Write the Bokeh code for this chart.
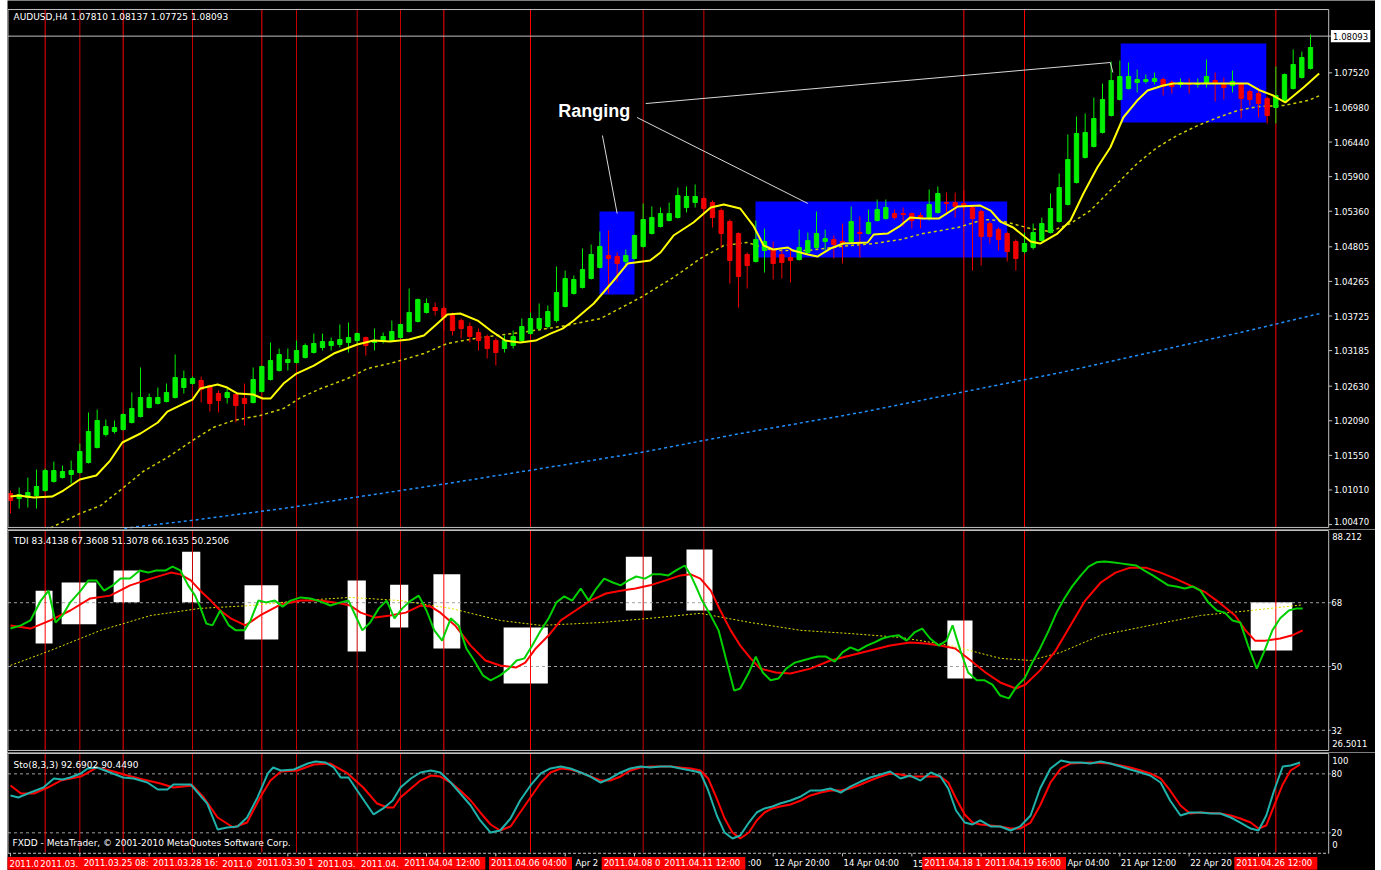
from bokeh.plotting import figure
from bokeh.models import Range1d, ColumnDataSource
from bokeh.layouts import column
from bokeh.embed import file_html
from bokeh.resources import INLINE
from bokeh.core.properties import value

# ---------------- DATA ----------------
chart_title = "AUDUSD,H4 1.07810 1.08137 1.07725 1.08093"
tdi_title = "TDI 83.4138 67.3608 51.3078 66.1635 50.2506"
sto_title = "Sto(8,3,3) 92.6902 90.4490"
footer = "FXDD - MetaTrader, \u00a9 2001-2010 MetaQuotes Software Corp."
last_price = 1.08093

open_ = [
1.00954, 1.00876, 1.00892, 1.00923, 1.01001, 1.01141, 1.01204, 1.01251, 1.01282, 1.01438,
1.01673, 1.01875, 1.01922, 1.01953, 1.02063, 1.02156, 1.02297, 1.02359, 1.02390, 1.02453,
1.02609, 1.02671, 1.02718, 1.02640, 1.02515, 1.02453, 1.02500, 1.02437, 1.02375, 1.02547,
1.02734, 1.02874, 1.02999, 1.02999, 1.03077, 1.03155, 1.03233, 1.03264, 1.03280, 1.03311,
1.03342, 1.03389, 1.03311, 1.03342, 1.03342, 1.03389, 1.03483, 1.03639, 1.03780, 1.03858,
1.03842, 1.03732, 1.03654, 1.03561, 1.03467, 1.03405, 1.03342, 1.03217, 1.03264, 1.03342,
1.03451, 1.03529, 1.03561, 1.03654, 1.03873, 1.04076, 1.04170, 1.04310, 1.04482, 1.04669,
1.04653, 1.04575, 1.04622, 1.04810, 1.05012, 1.05122, 1.05215, 1.05262, 1.05418, 1.05496,
1.05559, 1.05496, 1.05371, 1.05200, 1.05012, 1.04685, 1.04575, 1.04747, 1.04763, 1.04685,
1.04638, 1.04606, 1.04716, 1.04794, 1.04888, 1.04919, 1.04888, 1.04888, 1.05028, 1.05012,
1.05215, 1.05246, 1.05324, 1.05324, 1.05324, 1.05293, 1.05262, 1.05340, 1.05496, 1.05496,
1.05481, 1.05418, 1.05356, 1.05168, 1.05075, 1.05012, 1.04888, 1.04731, 1.04794, 1.04903,
1.05028, 1.05200, 1.05465, 1.05808, 1.06199, 1.06370, 1.06589, 1.06854, 1.07104, 1.07275,
1.07369, 1.07385, 1.07385, 1.07416, 1.07369, 1.07338, 1.07353, 1.07338, 1.07353, 1.07400,
1.07338, 1.07322, 1.07338, 1.07229, 1.07197, 1.07119, 1.06979, 1.07073, 1.07275, 1.07447,
1.07588]
high = [
1.01001, 1.01048, 1.01204, 1.01329, 1.01344, 1.01454, 1.01391, 1.01469, 1.01735, 1.02219,
1.02265, 1.02110, 1.02094, 1.02203, 1.02531, 1.02921, 1.02515, 1.02609, 1.02671, 1.03124,
1.02874, 1.02780, 1.02780, 1.02656, 1.02562, 1.02593, 1.02515, 1.02671, 1.02921, 1.02952,
1.03311, 1.03217, 1.03217, 1.03342, 1.03296, 1.03451, 1.03451, 1.03389, 1.03592, 1.03623,
1.03467, 1.03405, 1.03529, 1.03467, 1.03654, 1.03607, 1.04154, 1.03998, 1.03998, 1.03936,
1.03873, 1.03780, 1.03686, 1.03623, 1.03529, 1.03436, 1.03374, 1.03420, 1.03498, 1.03686,
1.03780, 1.03920, 1.03889, 1.04497, 1.04435, 1.04357, 1.04778, 1.04841, 1.05043, 1.05059,
1.04716, 1.04763, 1.04997, 1.05481, 1.05434, 1.05418, 1.05496, 1.05730, 1.05746, 1.05777,
1.05590, 1.05527, 1.05403, 1.05231, 1.05028, 1.04716, 1.05215, 1.05090, 1.04888, 1.04747,
1.04763, 1.05075, 1.05028, 1.05356, 1.05075, 1.04981, 1.05168, 1.05434, 1.05278, 1.05387,
1.05543, 1.05543, 1.05387, 1.05418, 1.05340, 1.05340, 1.05699, 1.05746, 1.05652, 1.05652,
1.05683, 1.05449, 1.05387, 1.05200, 1.05106, 1.05043, 1.04919, 1.05028, 1.05168, 1.05262,
1.05637, 1.05949, 1.06557, 1.06838, 1.06885, 1.07135, 1.07353, 1.07697, 1.07712, 1.07681,
1.07572, 1.07494, 1.07525, 1.07447, 1.07400, 1.07432, 1.07432, 1.07432, 1.07728, 1.07525,
1.07447, 1.07556, 1.07369, 1.07260, 1.07291, 1.07151, 1.07619, 1.07509, 1.07884, 1.07853,
1.08118]
low = [
1.00642, 1.00720, 1.00736, 1.00720, 1.00985, 1.01126, 1.01188, 1.01110, 1.01266, 1.01422,
1.01657, 1.01844, 1.01891, 1.01938, 1.02047, 1.02141, 1.02281, 1.02344, 1.02375, 1.02437,
1.02515, 1.02656, 1.02375, 1.02234, 1.02219, 1.02359, 1.02063, 1.02016, 1.02359, 1.02531,
1.02718, 1.02858, 1.02874, 1.02983, 1.03061, 1.03139, 1.03186, 1.03186, 1.03233, 1.03155,
1.03264, 1.03108, 1.03186, 1.03296, 1.03326, 1.03374, 1.03467, 1.03623, 1.03764, 1.03732,
1.03498, 1.03420, 1.03374, 1.03311, 1.03186, 1.03061, 1.02952, 1.03155, 1.03217, 1.03311,
1.03436, 1.03498, 1.03529, 1.03623, 1.03858, 1.04060, 1.04154, 1.04294, 1.04466, 1.04076,
1.04263, 1.04513, 1.04606, 1.04794, 1.04997, 1.05106, 1.05200, 1.05246, 1.05340, 1.05418,
1.05324, 1.05106, 1.04794, 1.04232, 1.03858, 1.04154, 1.04560, 1.04404, 1.04294, 1.04310,
1.04248, 1.04591, 1.04700, 1.04778, 1.04747, 1.04622, 1.04544, 1.04872, 1.04638, 1.04997,
1.05200, 1.05231, 1.05231, 1.05122, 1.05090, 1.05090, 1.05215, 1.05324, 1.05324, 1.05262,
1.05371, 1.04435, 1.04513, 1.04856, 1.04747, 1.04575, 1.04435, 1.04700, 1.04763, 1.04888,
1.05012, 1.05184, 1.05449, 1.05793, 1.06183, 1.06355, 1.06573, 1.06838, 1.07088, 1.07260,
1.07213, 1.07353, 1.07338, 1.07166, 1.07197, 1.07291, 1.07197, 1.07291, 1.07291, 1.07073,
1.07104, 1.07213, 1.06807, 1.07010, 1.06823, 1.06729, 1.06729, 1.07057, 1.07260, 1.07432,
1.07572]
close = [
1.00845, 1.00938, 1.00970, 1.01064, 1.01313, 1.01313, 1.01298, 1.01313, 1.01610, 1.01922,
1.02094, 1.02000, 1.01985, 1.02188, 1.02281, 1.02453, 1.02453, 1.02453, 1.02531, 1.02765,
1.02749, 1.02749, 1.02578, 1.02359, 1.02406, 1.02531, 1.02328, 1.02359, 1.02734, 1.02937,
1.03030, 1.03124, 1.03046, 1.03186, 1.03264, 1.03296, 1.03326, 1.03326, 1.03358, 1.03389,
1.03451, 1.03264, 1.03342, 1.03405, 1.03483, 1.03592, 1.03780, 1.03982, 1.03920, 1.03811,
1.03701, 1.03498, 1.03529, 1.03405, 1.03342, 1.03217, 1.03155, 1.03342, 1.03405, 1.03561,
1.03686, 1.03686, 1.03795, 1.04092, 1.04310, 1.04294, 1.04450, 1.04685, 1.04810, 1.04622,
1.04544, 1.04669, 1.04981, 1.05231, 1.05262, 1.05324, 1.05324, 1.05605, 1.05590, 1.05590,
1.05403, 1.05262, 1.05012, 1.04591, 1.04341, 1.04513, 1.04919, 1.04888, 1.04544, 1.04560,
1.04591, 1.04794, 1.04903, 1.05012, 1.04934, 1.04841, 1.04856, 1.05200, 1.05012, 1.05184,
1.05387, 1.05418, 1.05262, 1.05309, 1.05215, 1.05262, 1.05465, 1.05637, 1.05481, 1.05434,
1.05449, 1.05246, 1.04965, 1.04965, 1.04919, 1.04731, 1.04622, 1.04856, 1.05028, 1.05168,
1.05403, 1.05730, 1.06167, 1.06573, 1.06589, 1.06807, 1.07104, 1.07400, 1.07463, 1.07463,
1.07416, 1.07416, 1.07432, 1.07307, 1.07307, 1.07369, 1.07338, 1.07353, 1.07463, 1.07353,
1.07291, 1.07385, 1.07119, 1.07104, 1.07041, 1.06854, 1.07166, 1.07494, 1.07650, 1.07759,
1.07915]

ma_fast_x = [0, 0.9, 2.7, 4.8, 6.1, 8.0, 9.9, 11.5, 12.9, 15.0, 17.0, 18.1, 20.0, 21.0, 21.9, 23.9, 25.0, 26.2, 28.0, 29.1,
             30.0, 31.5, 33.0, 35.0, 37.3, 40.0, 41.9, 43.8, 46.0, 47.7, 49.0, 50.4, 51.9, 53.9, 55.4, 57.1, 58.8, 60.6, 62.3, 63.7,
             65.0, 67.3, 69.6, 71.2, 73.8, 75.0, 76.5, 78.8, 80.8, 82.3, 84.2, 85.7, 86.9, 88.0, 89.7, 90.3, 92.0, 93.1, 94.6, 96.1,
             98.9, 99.6, 101.2, 102.7, 103.8, 105.3, 107.1, 109.3, 111.9, 113.1, 114.2, 115.7, 117.7, 118.8, 120.8, 122.3, 123.8, 125.4, 126.9, 128.4,
             130.0, 131.2, 133.0, 134.2, 140.0, 142.8, 144.2, 145.7, 147.1, 149.2, 151.0]
ma_fast_y = [1.00907, 1.00923, 1.00892, 1.00907, 1.01001, 1.01173, 1.01235, 1.01469, 1.01751, 1.01891, 1.02063, 1.02234, 1.02359, 1.02421, 1.02593, 1.02656, 1.02609, 1.02515, 1.02500, 1.02437,
             1.02437, 1.02671, 1.02827, 1.02952, 1.03139, 1.03280, 1.03342, 1.03326, 1.03358, 1.03420, 1.03576, 1.03748, 1.03764, 1.03654, 1.03498, 1.03342, 1.03311, 1.03342, 1.03451, 1.03529,
             1.03654, 1.03920, 1.04279, 1.04544, 1.04591, 1.04716, 1.04981, 1.05184, 1.05418, 1.05465, 1.05403, 1.05137, 1.04825, 1.04763, 1.04794, 1.04747, 1.04685, 1.04653, 1.04778, 1.04856,
             1.04872, 1.04997, 1.05012, 1.05137, 1.05262, 1.05246, 1.05246, 1.05434, 1.05449, 1.05371, 1.05200, 1.05106, 1.04888, 1.04856, 1.05012, 1.05215, 1.05637, 1.06043, 1.06355, 1.06823,
             1.07088, 1.07244, 1.07322, 1.07353, 1.07353, 1.07353, 1.07244, 1.07166, 1.07057, 1.07291, 1.07509]
ma_slow_x = [4.0, 8.0, 10.4, 12.9, 15.3, 18.1, 21.0, 23.4, 25.7, 28.8, 31.5, 33.5, 35.8, 38.9, 41.2, 44.2, 47.7, 50.4, 54.2, 58.8,
             63.5, 68.1, 72.7, 76.5, 79.6, 82.3, 85.0, 88.0, 92.0, 95.8, 99.6, 102.7, 105.3, 109.3, 112.3, 114.2, 117.7, 120.0, 122.3, 124.6,
             127.7, 130.0, 132.3, 134.6, 137.0, 139.3, 141.6, 143.9, 146.9, 149.7, 151.1]
ma_slow_y = [1.00376, 1.00642, 1.00767, 1.01032, 1.01298, 1.01516, 1.01782, 1.01985, 1.02094, 1.02172, 1.02281, 1.02453, 1.02593, 1.02749, 1.02905, 1.02999, 1.03139, 1.03296, 1.03389, 1.03467,
             1.03561, 1.03686, 1.04014, 1.04326, 1.04622, 1.04825, 1.04872, 1.04747, 1.04747, 1.04810, 1.04856, 1.04919, 1.05012, 1.05106, 1.05231, 1.05215, 1.05090, 1.05043, 1.05168, 1.05371,
             1.05793, 1.06105, 1.06355, 1.06542, 1.06698, 1.06823, 1.06932, 1.06994, 1.07010, 1.07088, 1.07166]
ma_long_x = [10.4, 14.2, 20.8, 32.3, 39.6, 50.4, 61.2, 72.7, 84.2, 98.1, 109.6, 121.2, 131.5, 141.9, 151.1]
ma_long_y = [1.00331, 1.00430, 1.00533, 1.00736, 1.00892, 1.01110, 1.01344, 1.01594, 1.01891, 1.02219, 1.02531, 1.02843, 1.03155, 1.03467, 1.03764]

range_left = [67.96, 85.96, 128.1]
range_right = [72.0, 115.0, 144.9]
range_bottom = [1.04060, 1.04638, 1.06745]
range_top = [1.05356, 1.05512, 1.07978]
ranging_text = "Ranging"
ranging_pos = (63.2, 1.06932)
pointer_xs = [[68.3, 70.0], [72.3, 92.0], [73.3, 126.9, 127.2]]
pointer_ys = [[1.06542, 1.05324], [1.06823, 1.05481], [1.07041, 1.07681, 1.07525]]

price_ticks = [1.00470, 1.01010, 1.01550, 1.02090, 1.02630, 1.03185, 1.03725, 1.04265,
               1.04805, 1.05360, 1.05900, 1.06440, 1.06980, 1.07520]

# vertical time markers and their (partly overlapped) scale labels as shown
vline_idx = [4, 8, 13, 21, 29, 33, 40, 45, 50, 60, 73, 80, 110, 117, 146]
vline_labels = ["2011.0", "2011.03.", "2011.03.25 08:", "2011.03.28 16:",
                "2011.0", "2011.03.30 1", "2011.03.", "2011.04.",
                "2011.04.04 12:00", "2011.04.06 04:00", "2011.04.08 0", "2011.04.11 12:00",
                "2011.04.18 1", "2011.04.19 16:00", "2011.04.26 12:00"]
vline_colors = ["#FF0000", "#C80000", "#FF0000", "#C80000", "#FF0000", "#C80000", "#C80000", "#C80000",
                "#FF0000", "#FF0000", "#C80000", "#C80000", "#FF0000", "#FF0000", "#FF0000"]

# time scale: tick every 8 bars; the visible parts of the grey labels
time_tick_idx = [0, 8, 16, 24, 32, 40, 48, 56, 64, 72, 80, 88, 96, 104, 112, 120, 128, 136, 144]
time_label_idx = [65.07, 84.94, 88, 96, 104, 121.85, 128, 136]
time_label_text = ["Apr 2", ":00", "12 Apr 20:00", "14 Apr 04:00", "15", "Apr 04:00", "21 Apr 12:00", "22 Apr 20"]

tdi_x = [0, 1.2, 2.3, 3.5, 4.4, 5.2, 6.0, 6.9, 8.1, 9.0, 9.9, 10.8, 11.8, 12.7, 13.8, 14.9, 15.9, 16.8, 17.9, 18.7,
         19.6, 20.5, 21.3, 21.9, 22.6, 23.3, 24.2, 25.2, 26.0, 27.0, 27.7, 28.6, 29.5, 30.5, 31.4, 32.3, 33.5, 34.6, 35.8, 36.9,
         38.1, 39.0, 39.8, 40.6, 41.5, 42.5, 43.4, 44.3, 45.2, 46.2, 47.1, 48.0, 48.9, 49.8, 50.8, 51.7, 52.6, 53.5, 54.5, 55.4,
         56.5, 57.5, 58.4, 59.3, 60.2, 61.2, 62.1, 63.0, 63.9, 64.8, 65.8, 66.7, 67.6, 68.5, 69.5, 70.4, 71.3, 72.2, 73.2, 74.1,
         75.0, 75.9, 76.8, 77.8, 78.5, 79.2, 79.8, 80.8, 81.7, 82.6, 83.5, 84.2, 85.2, 86.0, 86.8, 87.7, 88.6, 89.5, 90.5, 91.4,
         92.3, 93.2, 94.1, 95.1, 96.0, 96.9, 97.8, 98.8, 99.7, 100.6, 101.5, 102.5, 103.4, 104.3, 105.2, 106.1, 107.1, 108.0, 108.7, 109.6,
         110.5, 111.5, 112.4, 113.3, 114.2, 115.2, 116.1, 117.0, 117.9, 118.8, 119.8, 120.7, 121.6, 122.5, 123.5, 124.4, 125.3, 126.2, 127.1, 128.1,
         129.0, 129.9, 130.8, 131.8, 132.7, 133.6, 134.5, 135.5, 136.4, 137.3, 138.2, 139.2, 140.1, 141.0, 141.9, 142.8, 143.8, 144.7, 145.6, 146.5,
         147.5, 148.4, 149.1]
tdi_price = [60.7, 61.6, 63.0, 68.6, 71.4, 62.4, 64.4, 68.1, 71.4, 74.3, 74.3, 71.4, 72.9, 74.8, 74.8, 77.1, 76.5, 77.1, 77.1, 78.2,
             77.1, 72.9, 70.0, 66.7, 62.1, 61.6, 65.8, 61.6, 60.2, 60.2, 63.0, 68.6, 68.1, 68.6, 66.9, 68.6, 69.5, 69.2, 68.3, 67.2,
             68.1, 68.6, 64.4, 60.2, 62.4, 66.4, 68.6, 63.6, 66.4, 68.6, 70.0, 65.8, 60.2, 57.3, 63.6, 61.6, 55.1, 51.7, 47.5, 46.1,
             47.5, 49.4, 51.7, 52.3, 55.9, 60.2, 63.6, 68.1, 69.8, 68.6, 72.0, 68.6, 72.0, 74.8, 73.7, 72.9, 74.3, 75.4, 74.8, 76.0,
             76.0, 75.7, 77.1, 78.5, 75.7, 72.0, 68.6, 64.4, 60.2, 51.7, 43.2, 43.8, 48.3, 52.8, 48.3, 46.1, 46.6, 49.4, 51.1, 51.7,
             52.3, 52.8, 52.8, 51.4, 54.0, 55.4, 54.5, 55.9, 56.8, 57.9, 58.5, 58.8, 57.3, 59.6, 60.7, 57.9, 55.9, 57.3, 61.6, 54.5,
             48.3, 46.1, 46.1, 44.9, 41.8, 41.0, 44.4, 46.6, 51.1, 55.1, 60.2, 65.2, 69.2, 72.6, 75.7, 78.2, 79.4, 79.6, 79.4, 79.1,
             78.8, 78.5, 77.1, 75.7, 74.3, 72.9, 72.6, 72.0, 72.6, 71.4, 68.1, 65.8, 65.2, 63.0, 62.4, 55.9, 49.4, 54.5, 60.2, 63.6,
             65.8, 66.4, 66.4]
tdi_sig_x = [0, 2.3, 4.6, 6.9, 9.2, 11.5, 13.8, 16.2, 18.5, 19.6, 20.8, 21.9, 23.1, 24.2, 25.4, 27.1, 28.8, 31.2, 33.5, 35.8,
             38.1, 39.2, 40.4, 42.1, 43.8, 45.6, 47.3, 48.5, 49.6, 51.3, 53.1, 54.8, 56.5, 58.3, 59.4, 60.6, 62.1, 63.5, 65.2, 66.9,
             68.7, 70.4, 72.1, 73.8, 75.6, 77.3, 78.5, 79.6, 80.8, 81.9, 83.1, 84.2, 85.4, 86.5, 88.3, 90.0, 92.3, 94.6, 96.9, 99.2,
             101.5, 103.8, 105.6, 107.3, 109.0, 110.8, 112.5, 114.2, 116.0, 117.1, 118.8, 120.6, 122.3, 124.0, 125.8, 127.5, 129.2, 131.0, 132.7, 134.4,
             136.1, 137.9, 139.6, 141.3, 142.5, 143.6, 144.8, 146.5, 147.9, 149.1]
tdi_sig = [61.6, 60.7, 63.0, 65.8, 69.2, 70.0, 72.9, 74.8, 76.5, 76.0, 74.3, 71.4, 68.6, 65.8, 63.6, 61.6, 64.4, 67.5, 68.6, 68.6,
           67.8, 67.2, 65.2, 63.8, 64.4, 65.2, 67.2, 66.9, 65.2, 61.6, 55.9, 51.7, 50.3, 49.7, 51.1, 55.1, 58.8, 63.0, 65.8, 68.6,
           70.6, 71.4, 72.0, 72.9, 74.3, 75.7, 76.0, 74.8, 71.4, 65.8, 60.2, 55.9, 52.3, 49.4, 48.3, 48.0, 49.4, 51.7, 53.1, 54.5,
           55.9, 56.8, 56.5, 55.9, 55.1, 51.7, 48.3, 45.5, 43.8, 44.9, 48.9, 54.5, 61.6, 68.6, 73.7, 76.5, 77.9, 77.9, 76.5, 74.8,
           72.9, 70.9, 67.8, 64.4, 60.2, 57.3, 57.3, 57.9, 58.8, 60.2]
tdi_base_x = [0, 4.6, 10.4, 16.2, 21.9, 27.7, 33.5, 39.2, 45.0, 50.8, 56.5, 61.2, 68.1, 73.8, 79.6, 85.4, 91.2, 96.9, 102.7, 108.5,
              114.2, 117.7, 121.2, 125.8, 131.5, 137.3, 143.1, 149.1]
tdi_base = [50.3, 54.5, 60.2, 64.4, 66.4, 67.2, 68.6, 69.5, 68.6, 66.4, 63.0, 61.6, 62.4, 63.6, 65.0, 62.4, 60.2, 59.3, 58.2, 55.9,
            52.3, 51.7, 54.0, 58.8, 61.6, 64.4, 65.8, 67.4]
tdi_levels = [68, 50, 32]
tdi_min, tdi_max = 26.5011, 88.212
tdi_box_left = [2.9, 5.9, 11.9, 19.8, 27.0, 38.9, 43.8, 48.8, 56.9, 71.0, 78.0, 108.1, 143.1]
tdi_box_right = [4.85, 9.9, 14.9, 21.9, 30.9, 41.0, 45.9, 51.9, 62.0, 74.0, 81.0, 111.0, 147.9]
tdi_box_bottom = [56.5, 61.9, 68.1, 68.1, 57.6, 54.2, 61.0, 55.1, 45.2, 65.8, 65.8, 46.6, 54.5]
tdi_box_top = [71.4, 73.7, 77.1, 82.4, 72.9, 74.3, 73.1, 76.0, 61.0, 81.0, 83.0, 63.0, 68.1]

sto_k_x = [0, 0.9, 2.3, 3.8, 5.0, 6.0, 6.9, 8.1, 8.9, 10.0, 11.2, 13.0, 14.2, 15.8, 17.0, 18.1, 18.8, 20.8, 22.7, 23.9,
           25.0, 26.2, 27.3, 28.5, 29.7, 30.3, 31.2, 32.7, 34.3, 35.2, 36.3, 37.3, 38.1, 39.0, 40.0, 41.9, 43.0, 44.1, 45.0, 46.2,
           47.3, 48.5, 49.6, 50.8, 51.9, 53.1, 54.2, 55.4, 56.5, 57.7, 58.8, 60.0, 61.2, 62.3, 63.5, 64.6, 65.8, 66.9, 68.1, 69.2,
           70.4, 71.5, 72.7, 73.8, 75.0, 76.2, 77.3, 78.5, 79.6, 80.5, 81.5, 82.4, 83.3, 84.2, 85.2, 86.1, 87.0, 87.9, 88.8, 90.0,
           91.2, 92.3, 93.5, 94.6, 95.8, 96.9, 98.1, 99.2, 100.4, 101.5, 102.7, 103.8, 105.0, 106.2, 107.3, 108.2, 109.1, 110.1, 111.0, 111.9,
           113.1, 114.2, 115.4, 116.5, 117.7, 118.8, 120.0, 121.2, 122.3, 123.5, 124.6, 125.8, 126.9, 128.1, 129.2, 130.4, 131.5, 132.7, 133.8, 135.0,
           136.1, 137.3, 138.5, 139.6, 140.8, 141.9, 143.1, 144.0, 144.9, 145.8, 146.8, 147.7, 148.8]
sto_k = [58.0, 56.0, 61.0, 66.1, 75.3, 74.3, 76.3, 80.4, 85.5, 86.5, 82.4, 76.3, 75.3, 71.2, 64.1, 64.1, 69.2, 69.2, 49.8, 23.4,
         25.4, 26.5, 35.6, 56.0, 80.4, 86.5, 83.4, 84.4, 90.5, 92.6, 91.6, 86.5, 76.3, 76.3, 63.1, 38.7, 44.8, 52.9, 66.1, 75.3,
         81.4, 83.4, 81.4, 71.2, 60.0, 47.8, 32.6, 20.3, 22.4, 34.6, 52.9, 68.2, 80.4, 85.5, 87.5, 85.5, 81.4, 77.3, 71.2, 75.3,
         81.4, 85.5, 87.5, 86.5, 87.5, 87.5, 85.5, 83.4, 81.4, 63.1, 37.6, 20.3, 14.2, 17.3, 30.5, 40.7, 44.8, 46.8, 49.8, 52.9,
         57.0, 63.1, 63.1, 65.1, 61.0, 67.1, 72.2, 76.3, 79.3, 82.4, 75.3, 78.3, 73.2, 81.4, 77.3, 65.1, 42.7, 30.5, 28.5, 32.6,
         26.5, 26.5, 22.4, 26.5, 37.6, 65.1, 85.5, 93.6, 91.6, 91.6, 90.5, 92.6, 90.5, 87.5, 84.4, 81.4, 78.3, 71.2, 52.9, 37.6,
         40.7, 40.7, 39.7, 39.7, 35.6, 30.5, 24.4, 22.4, 37.6, 63.1, 87.5, 88.5, 91.6]
sto_d_x = [0, 1.2, 2.7, 4.3, 5.8, 8.1, 10.0, 11.9, 13.5, 15.3, 17.3, 18.8, 21.0, 22.3, 23.9, 25.7, 27.3, 28.8, 30.0, 31.2,
           33.1, 35.0, 36.9, 38.9, 40.7, 42.3, 43.5, 44.2, 45.0, 46.2, 47.3, 48.5, 49.6, 50.8, 51.9, 53.1, 54.2, 55.4, 56.5, 57.7,
           58.8, 60.0, 61.2, 62.3, 63.5, 64.6, 65.8, 66.9, 68.1, 69.2, 70.4, 71.5, 72.7, 73.8, 76.2, 77.3, 78.5, 79.6, 80.5, 81.5,
           82.4, 83.3, 84.2, 85.2, 86.1, 87.0, 87.9, 88.8, 90.0, 91.2, 92.3, 93.5, 94.6, 95.8, 96.9, 98.1, 99.2, 100.4, 101.5, 102.7,
           103.8, 106.2, 107.3, 108.2, 109.1, 110.1, 111.0, 111.9, 114.2, 115.4, 116.5, 117.7, 118.8, 120.0, 121.2, 122.3, 124.6, 126.9, 128.1, 129.2,
           130.4, 131.5, 132.7, 133.8, 135.0, 136.1, 137.3, 139.6, 140.8, 141.9, 143.1, 144.0, 144.9, 145.8, 146.8, 147.7, 148.8]
sto_d = [68.2, 60.0, 60.0, 66.1, 73.2, 77.3, 86.5, 82.4, 78.3, 74.3, 70.2, 66.1, 68.2, 56.0, 35.6, 25.4, 30.5, 56.0, 73.2, 82.4,
         83.4, 89.5, 90.5, 80.4, 66.1, 49.8, 45.8, 45.8, 56.0, 65.1, 73.2, 78.3, 77.3, 71.2, 63.1, 52.9, 40.7, 28.5, 22.4, 26.5,
         40.7, 56.0, 71.2, 81.4, 85.5, 84.4, 81.4, 77.3, 73.2, 73.2, 77.3, 83.4, 86.5, 87.5, 87.5, 86.5, 85.5, 83.4, 75.3, 54.9,
         34.6, 20.3, 14.2, 20.3, 32.6, 40.7, 44.8, 46.8, 48.8, 52.9, 58.0, 61.0, 63.1, 63.1, 65.1, 69.2, 73.2, 77.3, 80.4, 79.3,
         77.3, 77.3, 77.3, 71.2, 54.9, 38.7, 30.5, 28.5, 26.5, 24.4, 24.4, 30.5, 47.8, 71.2, 85.5, 90.5, 91.6, 90.5, 88.5, 86.5,
         83.4, 80.4, 75.3, 63.1, 47.8, 39.7, 40.7, 39.7, 37.6, 34.6, 30.5, 24.4, 27.5, 47.8, 69.2, 83.4, 89.5]
sto_levels = [80, 20]
sto_min, sto_max = 0, 100

# ---------------- STYLE / GEOMETRY ----------------
FONT = "DejaVu Sans"
BG = "#000000"
FRAME = "#C0C0C0"
TXT = "#FFFFFF"
BULL = "#00F000"
BEAR = "#F00000"

XR = Range1d(-0.346, 157.50)      # bar index across the whole black area
X_LEFT, X_RIGHT = -0.29, 152.1    # window border (left edge, price-scale edge)
PX = 8.667                        # pixels per bar
SCALE_FS = "8.5px"


def panel(fh, yr):
    p = figure(frame_width=1368, frame_height=fh, x_range=XR, y_range=yr,
               x_axis_location=None, y_axis_location=None,
               output_backend="svg", toolbar_location=None,
               min_border_left=7, min_border_right=0, min_border_top=0, min_border_bottom=0,
               background_fill_color=BG, border_fill_color="#FFFFFF", outline_line_color=None)
    p.xgrid.visible = False
    p.ygrid.visible = False
    return p


def border(p, top, bottom, dashed_bottom=False):
    p.segment(x0=[X_LEFT, X_RIGHT, X_LEFT], x1=[X_RIGHT, X_RIGHT, X_LEFT],
              y0=[top, top, top], y1=[top, bottom, bottom], line_color=FRAME, line_width=1)
    p.segment(x0=[X_LEFT], x1=[X_RIGHT], y0=[bottom], y1=[bottom], line_color=FRAME, line_width=1,
              line_dash="3 2" if dashed_bottom else "solid")


def vlines(p, lo, hi):
    n = len(vline_idx)
    p.segment(x0=vline_idx, x1=vline_idx, y0=[lo] * n, y1=[hi] * n,
              line_color=vline_colors, line_width=1)


def levels(p, lv):
    n = len(lv)
    p.segment(x0=[X_LEFT] * n, x1=[X_RIGHT + 0.25] * n, y0=lv, y1=lv,
              line_color="#A0A0A0", line_width=1, line_dash="3 3")


def txt(p, xs, ys, texts, color=TXT, size="9px", baseline="middle", align="left", font=FONT, style="normal", x_offset=0):
    p.text(x=xs, y=ys, text=texts, text_color=color, text_font=value(font), text_font_size=size,
           text_baseline=baseline, text_align=align, text_font_style=style, x_offset=x_offset)


# ---------------- PRICE PANEL ----------------
P_LO, P_HI = 1.00393, 1.08649          # whole black area (y 0..529)
P_TOP, P_BOT = 1.08508, 1.00425        # window border
p1 = panel(529, Range1d(P_LO, P_HI))

p1.quad(left=range_left, right=range_right, bottom=range_bottom, top=range_top,
        fill_color="#0000FF", line_color=None)
vlines(p1, P_BOT, P_TOP)
p1.segment(x0=[X_LEFT], x1=[X_RIGHT + 0.25], y0=[last_price], y1=[last_price], line_color=FRAME, line_width=1)

p1.line(ma_long_x, ma_long_y, line_color="#1E90FF", line_width=1.5, line_dash="3 3")
p1.line(ma_slow_x, ma_slow_y, line_color="#CCCC00", line_width=1.5, line_dash="3 3")

n = min(len(open_), len(high), len(low), len(close))
idx = list(range(n))
cols = [BULL if close[i] >= open_[i] else BEAR for i in idx]
src = ColumnDataSource(dict(x=idx, h=high[:n], l=low[:n],
                            top=[max(open_[i], close[i]) for i in idx],
                            bot=[min(open_[i], close[i]) for i in idx],
                            col=cols))
p1.segment(x0="x", x1="x", y0="l", y1="h", line_color="col", line_width=1, source=src)
p1.vbar(x="x", width=0.5, top="top", bottom="bot", fill_color="col", line_color="col", source=src)

p1.line(ma_fast_x, ma_fast_y, line_color="#FFFF00", line_width=2)
p1.multi_line(xs=pointer_xs, ys=pointer_ys, line_color="#D8D8D8", line_width=1)
txt(p1, [ranging_pos[0]], [ranging_pos[1]], [ranging_text], size="18px", baseline="alphabetic",
    font="Liberation Sans", style="bold")
border(p1, P_TOP, P_BOT)

# price scale
nt = len(price_ticks)
p1.segment(x0=[X_RIGHT] * nt, x1=[X_RIGHT + 0.4] * nt, y0=price_ticks, y1=price_ticks, line_color=FRAME)
txt(p1, [X_RIGHT + 0.6] * (nt - 1), price_ticks[1:], [f"{t:.5f}" for t in price_ticks[1:]], size=SCALE_FS)
txt(p1, [X_RIGHT + 0.6], [price_ticks[0]], [f"{price_ticks[0]:.5f}"], baseline="bottom", size=SCALE_FS)
p1.quad(left=[X_RIGHT + 0.25], right=[156.9], bottom=[last_price - 0.00095], top=[last_price + 0.00095],
        fill_color="#FFFFFF", line_color=None)
txt(p1, [X_RIGHT + 0.5], [last_price], [f"{last_price:.5f}"], color="#000000", size=SCALE_FS)
txt(p1, [0.35], [1.08384], [chart_title])

# ---------------- TDI PANEL ----------------
T_LO, T_HI = 25.73, 88.66               # black area (y 529..752)
T_TOP, T_BOT = 88.37, 26.30             # window border
p2 = panel(223, Range1d(T_LO, T_HI))
p2.quad(left=tdi_box_left, right=tdi_box_right, bottom=tdi_box_bottom, top=tdi_box_top,
        fill_color="#FFFFFF", line_color=None)
levels(p2, tdi_levels)
vlines(p2, T_BOT, T_TOP)
p2.line(tdi_base_x, tdi_base, line_color="#E0E000", line_width=1, line_dash="2 2")
p2.line(tdi_sig_x, tdi_sig, line_color="#FF0000", line_width=2)
p2.line(tdi_x, tdi_price, line_color="#00D000", line_width=2)
border(p2, T_TOP, T_BOT)
txt(p2, [X_RIGHT + 0.3] * 3, tdi_levels, [str(v) for v in tdi_levels], size=SCALE_FS)
txt(p2, [X_RIGHT + 0.4], [86.68], [f"{tdi_max:.3f}"], size=SCALE_FS)
txt(p2, [X_RIGHT + 0.4], [28.27], [f"{tdi_min:.4f}"], size=SCALE_FS)
txt(p2, [0.35], [85.55], [tdi_title])

# ---------------- STOCHASTIC PANEL + TIME SCALE ----------------
S_LO, S_HI = -18.31, 101.73             # black area (y 752..870)
S_TOP = 100.7
p3 = panel(118, Range1d(S_LO, S_HI))
levels(p3, sto_levels)
vlines(p3, sto_min, S_TOP)
p3.line(sto_d_x, sto_d, line_color="#FF0000", line_width=2)
p3.line(sto_k_x, sto_k, line_color="#20B2AA", line_width=2)
border(p3, S_TOP, -0.8, dashed_bottom=True)
txt(p3, [X_RIGHT + 0.3] * 2, sto_levels, [str(v) for v in sto_levels], size=SCALE_FS)
txt(p3, [X_RIGHT + 0.4], [93.6], [str(sto_max)], size=SCALE_FS)
txt(p3, [X_RIGHT + 0.4], [8.1], [str(sto_min)], size=SCALE_FS)
txt(p3, [0.35], [89.5], [sto_title])
txt(p3, [0.23], [9.2], [footer])

# time scale
ntt = len(time_tick_idx)
p3.segment(x0=time_tick_idx, x1=time_tick_idx, y0=[-0.8] * ntt, y1=[-4.0] * ntt, line_color=FRAME, line_width=1)
txt(p3, time_label_idx, [-10.9] * len(time_label_idx), time_label_text, size="8.5px", x_offset=1)
half = 83.0 / PX / 2
for xi, t in zip(vline_idx, vline_labels):
    left = xi - half
    p3.quad(left=[left], right=[xi + half], bottom=[-17.6], top=[-4.7], fill_color="#FF0000", line_color=None)
    txt(p3, [max(left, XR.start)], [-10.9], [t], size="8.5px", x_offset=2)

layout = column(p1, p2, p3, spacing=0)
open("out.html", "w").write(file_html(layout, INLINE, "AUDUSD H4"))
